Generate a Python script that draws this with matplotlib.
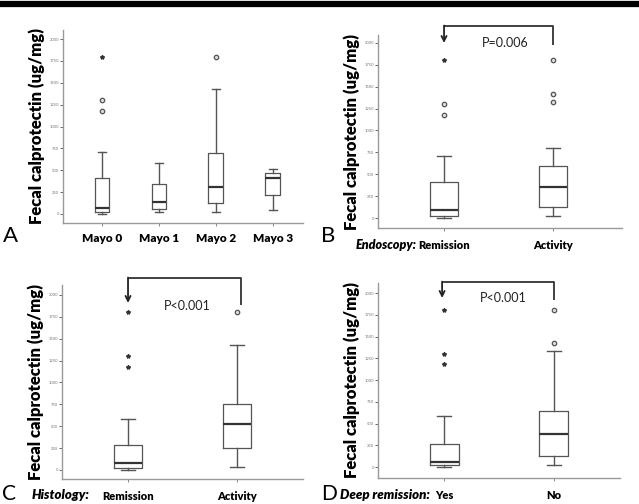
import numpy as np
import matplotlib
matplotlib.use("Agg")
import matplotlib.pyplot as plt
from matplotlib.lines import Line2D

plt.rcParams['font.family'] = ['Lato', 'DejaVu Sans']

# box summaries: (whislo, q1, med, q3, whishi)
mayo_labels = ["Mayo 0", "Mayo 1", "Mayo 2", "Mayo 3"]
mayo_stats = [(5, 22, 70, 415, 710), (20, 60, 135, 345, 580),
              (20, 120, 305, 700, 1425), (50, 220, 410, 465, 510)]
mayo_out = [[1180, 1300], [], [1800], []]        # circles
mayo_ext = [[1800], [], [], []]                  # asterisks

endo_labels = ["Remission", "Activity"]
endo_stats = [(3, 25, 90, 410, 710), (20, 125, 355, 600, 800)]
endo_out = [[1180, 1300], [1330, 1420, 1800]]
endo_ext = [[1800], []]

histo_labels = ["Remission", "Activity"]
histo_stats = [(3, 25, 80, 290, 585), (35, 255, 530, 755, 1430)]
histo_out = [[], [1800]]
histo_ext = [[1180, 1300, 1800], []]

deep_labels = ["Yes", "No"]
deep_stats = [(3, 20, 60, 265, 585), (20, 125, 385, 645, 1330)]
deep_out = [[], [1420, 1800]]
deep_ext = [[1180, 1300, 1800], []]

yticks = [0, 250, 500, 750, 1000, 1250, 1500, 1750, 2000]

W, H = 639, 504
fig = plt.figure(figsize=(W / 100, H / 100), dpi=100)

# black rule across the top
fig.add_artist(Line2D([0, 1], [1 - 4 / H, 1 - 4 / H], color='black', lw=4.5))


def make_ax(left, right, top, bottom):
    return fig.add_axes([left / W, 1 - bottom / H, (right - left) / W, (bottom - top) / H])


def draw_panel(ax, stats, outs, exts, labels, xlim, ylim):
    pos = np.arange(1, len(stats) + 1)
    bx = []
    for s in stats:
        bx.append(dict(whislo=s[0], q1=s[1], med=s[2], q3=s[3], whishi=s[4], fliers=[]))
    ax.bxp(bx, positions=pos, widths=0.26, showfliers=False, capwidths=0.13,
           boxprops=dict(color='#555555', lw=0.9),
           whiskerprops=dict(color='#555555', lw=1.0),
           capprops=dict(color='#555555', lw=1.0),
           medianprops=dict(color='#333333', lw=1.6))
    for p, o, e in zip(pos, outs, exts):
        if o:
            ax.plot([p] * len(o), o, 'o', ms=3.2, mfc='#dddddd', mec='#555555', mew=0.9)
        if e:
            ax.plot([p] * len(e), e, '*', ms=3, color='#333333')
    ax.set_xlim(*xlim)
    ax.set_ylim(*ylim)
    ax.set_yticks(yticks)
    ax.set_yticklabels([str(t) for t in yticks], fontsize=3, color='#777777')
    ax.set_xticks(pos)
    ax.set_xticklabels([])
    ax.tick_params(axis='y', length=2, width=0.7, color='#666666', pad=1)
    ax.tick_params(axis='x', length=2, width=0.7, color='#888888')
    for side in ['top', 'right']:
        ax.spines[side].set_visible(False)
    for side in ['left', 'bottom']:
        ax.spines[side].set_color('#999999')
        ax.spines[side].set_linewidth(1.0)
    ax.set_ylabel("Fecal calprotectin (ug/mg)", fontsize=12, fontweight='heavy', labelpad=3)
    return pos


def bracket(ax, x0, x1, ytop, yright, ytip, text, tx, ty):
    ax.plot([x1, x1, x0], [yright, ytop, ytop], color='#333333', lw=1.3,
            clip_on=False, solid_capstyle='butt')
    ax.annotate("", xy=(x0, ytip), xytext=(x0, ytop + 5), annotation_clip=False,
                arrowprops=dict(arrowstyle='->', color='#222222', lw=1.3,
                                mutation_scale=9, shrinkA=0, shrinkB=0))
    ax.text(tx, ty, text, fontsize=9, ha='center', va='center', color='#222222')


def cat_labels(ax, pos, labels, y, size=8):
    for p, lab in zip(pos, labels):
        ax.text(p, y, lab, fontsize=size, fontweight='heavy', ha='center', va='center')


# Panel A
axA = make_ax(63, 303, 30, 223)
posA = draw_panel(axA, mayo_stats, mayo_out, mayo_ext, mayo_labels, (0.316, 4.53), (-103, 2103))
cat_labels(axA, posA, mayo_labels, -280, size=8.5)
fig.text(3 / W, 1 - 236 / H, "A", fontsize=16, ha='left', va='center')

# Panel B
axB = make_ax(378, 622, 35, 228)
posB = draw_panel(axB, endo_stats, endo_out, endo_ext, endo_labels, (0.394, 2.633), (-114, 2091))
cat_labels(axB, posB, endo_labels, -310)
bracket(axB, 1, 2, 2194, 1977, 2000, "P=0.006", 1.56, 2000)
fig.text(321 / W, 1 - 236 / H, "B", fontsize=16, ha='left', va='center')
fig.text(356 / W, 1 - 245 / H, "Endoscopy:", fontsize=9, fontweight='heavy',
         fontstyle='italic', ha='left', va='center')

# Panel C
axC = make_ax(62, 303, 285, 479)
posC = draw_panel(axC, histo_stats, histo_out, histo_ext, histo_labels, (0.394, 2.606), (-103, 2114))
cat_labels(axC, posC, histo_labels, -305)
bracket(axC, 1, 2.04, 2194, 1886, 1909, "P<0.001", 1.54, 1874)
fig.text(2 / W, 1 - 494 / H, "C", fontsize=15, ha='left', va='center')
fig.text(32 / W, 1 - 495 / H, "Histology:", fontsize=9.5, fontweight='heavy',
         fontstyle='italic', ha='left', va='center')

# Panel D
axD = make_ax(378, 620, 283, 478)
posD = draw_panel(axD, deep_stats, deep_out, deep_ext, deep_labels, (0.394, 2.606), (-126, 2115))
cat_labels(axD, posD, deep_labels, -330)
bracket(axD, 0.98, 2.0, 2126, 1920, 1943, "P<0.001", 1.54, 1943)
fig.text(321 / W, 1 - 494 / H, "D", fontsize=15, ha='left', va='center')
fig.text(340 / W, 1 - 495 / H, "Deep remission:", fontsize=9.5, fontweight='heavy',
         fontstyle='italic', ha='left', va='center')

fig.savefig("out.png", dpi=100)
